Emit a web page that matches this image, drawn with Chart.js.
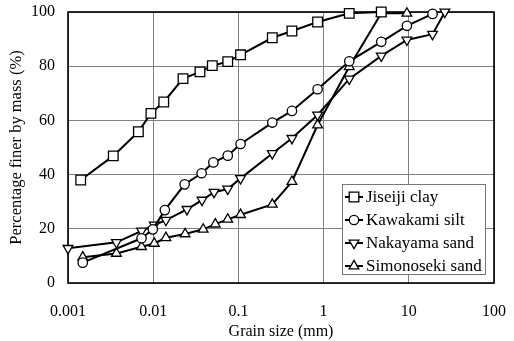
<!DOCTYPE html>
<html>
<head>
<meta charset="utf-8">
<script src="https://cdn.jsdelivr.net/npm/chart.js@4"></script>
<style>
  html, body { margin: 0; padding: 0; background: #fff; }
  #wrap { width: 514px; height: 341px; }
</style>
</head>
<body>
<div id="wrap"><canvas id="gsd"></canvas></div>
<script>
// grain size distribution curves (size in mm, percent finer)
const seriesNames = ['Jiseiji clay', 'Kawakami silt', 'Nakayama sand', 'Simonoseki sand'];

const clayX = [0.00141, 0.0034, 0.0067, 0.0094, 0.0133, 0.0224, 0.0354, 0.0494, 0.075, 0.106, 0.25, 0.425, 0.85, 2, 4.75];
const clayY = [38, 46.9, 55.8, 62.6, 66.8, 75.4, 77.9, 80.2, 81.7, 84.2, 90.5, 93, 96.3, 99.5, 100];

const siltX = [0.00149, 0.0073, 0.0099, 0.0137, 0.0234, 0.037, 0.0508, 0.075, 0.106, 0.25, 0.425, 0.85, 2, 4.75, 9.5, 19];
const siltY = [7.5, 16.5, 19.8, 26.9, 36.4, 40.5, 44.5, 47, 51.3, 59.2, 63.5, 71.5, 81.8, 89, 94.9, 99.3];

const nakaX = [0.001, 0.0037, 0.0073, 0.0103, 0.0141, 0.0249, 0.0374, 0.0518, 0.075, 0.106, 0.25, 0.425, 0.85, 2, 4.75, 9.5, 19, 26.5];
const nakaY = [12.8, 15, 19.2, 21.4, 23.2, 27.2, 30.6, 33.5, 34.7, 38.6, 47.8, 53.4, 62, 75.3, 83.8, 89.7, 91.8, 100];

const simoX = [0.00149, 0.0037, 0.0073, 0.0103, 0.0141, 0.0237, 0.0386, 0.0536, 0.075, 0.106, 0.25, 0.425, 0.85, 2, 4.75, 9.5];
const simoY = [9.5, 10.9, 13.4, 14.6, 16.7, 18.1, 19.8, 21.7, 23.5, 25.2, 29, 37.4, 58.3, 79.8, 99.5, 99.5];

const xTicks = [0.001, 0.01, 0.1, 1, 10, 100];
const yTicks = [0, 20, 40, 60, 80, 100];

const FONT = "'Liberation Serif', 'Times New Roman', Times, 'DejaVu Serif', serif";
Chart.defaults.font.family = FONT;

function pts(xs, ys) {
  return xs.map((x, i) => ({ x: x, y: ys[i] }));
}

function series(label, data, style, radius, rotation) {
  return {
    label: label,
    data: data,
    borderColor: '#000',
    borderWidth: 2,
    backgroundColor: '#fff',
    pointStyle: style,
    pointRadius: radius,
    pointRotation: rotation || 0,
    pointBorderWidth: 1.3,
    pointBorderColor: '#000',
    pointBackgroundColor: '#fff',
    clip: false,
    tension: 0
  };
}

// black frame around the plot area
const framePlugin = {
  id: 'frame',
  beforeDatasetsDraw(chart) {
    const a = chart.chartArea, ctx = chart.ctx;
    ctx.save();
    ctx.strokeStyle = '#000';
    ctx.lineWidth = 1.6;
    ctx.strokeRect(a.left, a.top, a.right - a.left, a.bottom - a.top);
    ctx.restore();
  }
};

// boxed legend in the lower right corner of the plot
const boxLegend = {
  id: 'boxLegend',
  afterDatasetsDraw(chart) {
    const a = chart.chartArea, ctx = chart.ctx;
    const w = 143, h = 90, row = 23;
    const left = a.right - 9 - w, top = a.bottom - 9 - h;
    ctx.save();
    ctx.fillStyle = '#fff';
    ctx.fillRect(left, top, w, h);
    ctx.strokeStyle = '#777';
    ctx.lineWidth = 1;
    ctx.strokeRect(left + 0.5, top + 0.5, w, h);
    ctx.font = '17px ' + FONT;
    ctx.textBaseline = 'middle';
    ctx.fillStyle = '#000';
    chart.data.datasets.forEach((ds, i) => {
      const cy = top + 13 + i * row;
      ctx.strokeStyle = '#000';
      ctx.lineWidth = 2;
      ctx.beginPath();
      ctx.moveTo(left + 3, cy);
      ctx.lineTo(left + 21, cy);
      ctx.stroke();
      ctx.lineWidth = 1.3;
      ctx.fillStyle = '#fff';
      Chart.helpers.drawPoint(ctx, {
        pointStyle: ds.pointStyle,
        radius: ds.pointRadius,
        rotation: ds.pointRotation,
        borderWidth: 1.3
      }, left + 12, cy);
      ctx.fillStyle = '#000';
      ctx.fillText(ds.label, left + 24, cy + 1);
    });
    ctx.restore();
  }
};

// keep the tick label overhang from shrinking the plot area
function noOverhang(scale) {
  scale.paddingTop = 0;
  scale.paddingBottom = 0;
  scale.paddingLeft = 0;
  scale.paddingRight = 0;
}

new Chart(document.getElementById('gsd'), {
  type: 'line',
  data: {
    datasets: [
      series(seriesNames[0], pts(clayX, clayY), 'rect', 6.8),
      series(seriesNames[1], pts(siltX, siltY), 'circle', 4.7),
      series(seriesNames[2], pts(nakaX, nakaY), 'triangle', 5.6, 180),
      series(seriesNames[3], pts(simoX, simoY), 'triangle', 5.6)
    ]
  },
  options: {
    responsive: true,
    maintainAspectRatio: false,
    animation: false,
    events: [],
    layout: { padding: { top: 12, right: 20, left: 0, bottom: 0 } },
    plugins: {
      legend: { display: false },
      tooltip: { enabled: false }
    },
    scales: {
      x: {
        type: 'logarithmic',
        min: 0.001,
        max: 100,
        afterBuildTicks(scale) {
          scale.ticks = xTicks.map(v => ({ value: v }));
        },
        afterFit(scale) { scale.height = 58; noOverhang(scale); },
        grid: { color: '#808080', lineWidth: 1, drawTicks: false },
        border: { display: false },
        ticks: {
          autoSkip: false,
          maxRotation: 0,
          padding: 19,
          color: '#000',
          font: { family: FONT, size: 16 },
          callback: v => String(v)
        },
        title: {
          display: true,
          text: 'Grain size (mm)',
          color: '#000',
          font: { family: FONT, size: 16 },
          padding: { top: 0, bottom: 0 }
        }
      },
      y: {
        min: 0,
        max: 100,
        afterBuildTicks(scale) {
          scale.ticks = yTicks.map(v => ({ value: v }));
        },
        afterFit(scale) { scale.width = 68; noOverhang(scale); },
        grid: { color: '#808080', lineWidth: 1, drawTicks: false },
        border: { display: false },
        ticks: {
          padding: 13,
          color: '#000',
          font: { family: FONT, size: 16 }
        },
        title: {
          display: true,
          text: 'Percentage finer by mass (%)',
          color: '#000',
          font: { family: FONT, size: 16.5 },
          padding: { top: 7, bottom: 0 }
        }
      }
    }
  },
  plugins: [framePlugin, boxLegend]
});
</script>
</body>
</html>
